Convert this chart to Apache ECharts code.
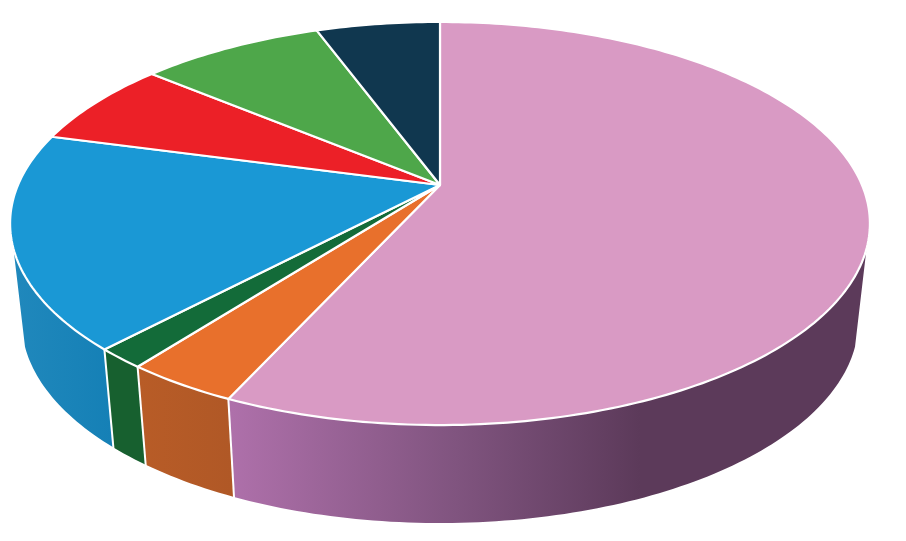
<!DOCTYPE html>
<html>
<head>
<meta charset="utf-8">
<style>html,body{margin:0;padding:0;background:#fff}#c{width:906px;height:541px}</style>
<script src="https://cdn.jsdelivr.net/npm/echarts@6/dist/echarts.min.js"></script>
</head>
<body>
<div id="c"></div>
<script>
// Slices clockwise from 12 o'clock (percent; no labels in the source)
const categories = ['Pink', 'Orange', 'Dark green', 'Blue', 'Red', 'Green', 'Navy'];
const values = [56.8, 3.6, 1.6, 17.2, 6.9, 8.3, 5.6];
const topColors = ['#d99ac4', '#e8702c', '#136b39', '#1a98d5', '#ec2027', '#4ea74a', '#10374f'];
const wallStops = [
  [[0, '#ae70aa'], [0.55, '#80547f'], [1, '#5c3a5a']],
  [[0, '#b85c27'], [1, '#b05826']],
  [[0, '#17602f'], [1, '#17602f']],
  [[0, '#2088bc'], [1, '#1580b6']],
  null, null, null
];
const wallGradX = [[232, 640], [140, 232], [108, 146], [14, 112], null, null, null];

// Perspective disc: the apex sits above the ellipse's centre
const apex = { x: 440, y: 185 };
const persp = { A: 422, B: 194.2, k: 0.191 };
const wall = { scaleX: 0.973, scaleY: 1, drop: 98, from: 108, to: 252 };
const STEP = 1;

const total = values.reduce((a, b) => a + b, 0);
const starts = [];
values.reduce((acc, v, i) => { starts[i] = acc; return acc + v / total * 360; }, 0);

function topPoint(deg) {
  const r = deg * Math.PI / 180, u = Math.sin(r), v = -Math.cos(r);
  const d = 1 - persp.k * v;
  return [apex.x + persp.A * u / d, apex.y + persp.B * v / d];
}
function basePoint(deg) {
  const p = topPoint(deg);
  return [apex.x + wall.scaleX * (p[0] - apex.x), apex.y + wall.drop + wall.scaleY * (p[1] - apex.y)];
}
function arc(fn, a, b) {
  const pts = [], n = Math.max(1, Math.ceil((b - a) / STEP));
  for (let i = 0; i <= n; i++) pts.push(fn(a + (b - a) * i / n));
  return pts;
}
function range(i) { return [starts[i], starts[i] + values[i] / total * 360]; }

const data = values.map((v, i) => ({ name: categories[i], value: v }));

function renderWall(params) {
  const i = params.dataIndex, [a0, b0] = range(i);
  const a = Math.max(a0, wall.from), b = Math.min(b0, wall.to);
  if (b <= a || !wallStops[i]) return { type: 'group', children: [] };
  const pts = arc(topPoint, a, b).concat(arc(basePoint, a, b).reverse());
  const children = [{
    type: 'polygon',
    shape: { points: pts },
    style: {
      fill: {
        type: 'linear', global: true,
        x: wallGradX[i][0], y: 0, x2: wallGradX[i][1], y2: 0,
        colorStops: wallStops[i].map(s => ({ offset: s[0], color: s[1] }))
      }
    }
  }];
  // white divider at the slice's clockwise end, where it faces the viewer
  if (b0 <= wall.to) {
    const p = topPoint(b0), q = basePoint(b0);
    children.push({
      type: 'line',
      shape: { x1: p[0], y1: p[1], x2: q[0], y2: q[1] + 1 },
      style: { stroke: '#fff', lineWidth: 2 }, z2: 5
    });
  }
  return { type: 'group', children };
}

function renderTop(params) {
  const i = params.dataIndex, [a, b] = range(i);
  const pts = [[apex.x, apex.y]].concat(arc(topPoint, a, b));
  return {
    type: 'polygon',
    shape: { points: pts },
    style: { fill: topColors[i], stroke: '#fff', lineWidth: 2.2, lineJoin: 'round' }
  };
}

const chart = echarts.init(document.getElementById('c'), null, { renderer: 'canvas' });
chart.setOption({
  animation: false,
  backgroundColor: '#fff',
  series: [
    { type: 'custom', coordinateSystem: 'none', silent: true, z: 1, renderItem: renderWall, data },
    { type: 'custom', coordinateSystem: 'none', silent: true, z: 2, renderItem: renderTop, data }
  ]
});
</script>
</body>
</html>
